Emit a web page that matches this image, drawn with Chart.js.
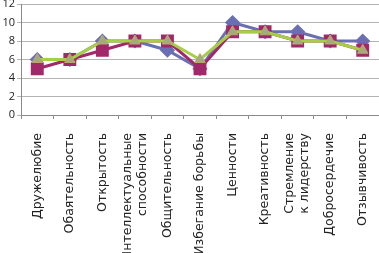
<!DOCTYPE html>
<html><head><meta charset="utf-8">
<script src="https://cdn.jsdelivr.net/npm/chart.js@4/dist/chart.umd.min.js"></script>
<style>html,body{margin:0;padding:0;background:#fff;overflow:hidden}canvas{display:block}</style>
</head><body>
<canvas id="c" width="379" height="253"></canvas>
<script>
const categories = ["Дружелюбие", "Обаятельность", "Открытость", ["Интеллектуальные", "способности"], "Общительность", "Избегание борьбы", "Ценности", "Креативность", ["Стремление", "к лидерству"], "Добросердечие", "Отзывчивость"];
const seriesBlue = [6, 6, 8, 8, 7, 5, 10, 9, 9, 8, 8];
const seriesRed = [5, 6, 7, 8, 8, 5, 9, 9, 8, 8, 7];
const seriesGreen = [6, 6, 8, 8, 8, 6, 9, 9, 8, 8, 7];
const yTicks = [0, 2, 4, 6, 8, 10, 12];

const centerMultiline = {
  id: 'centerMultiline',
  beforeDraw(chart) {
    const s = chart.scales.x;
    const items = s.getLabelItems(chart.chartArea);
    items.forEach(it => {
      const n = Array.isArray(it.label) ? it.label.length : 1;
      if (n > 1 && !it._shifted) {
        it.options.translation[0] -= (n - 1) * it.font.lineHeight / 2;
        it._shifted = true;
      }
    });
  }
};

new Chart(document.getElementById('c'), {
  type: 'line',
  data: {
    labels: categories,
    datasets: [
      {data: seriesGreen, borderColor: '#a6cf45', backgroundColor: '#a3ab7c', pointStyle: 'triangle', pointRadius: 6, pointBorderColor: '#b8a870', pointBorderWidth: 1, borderWidth: 3, order: 0},
      {data: seriesRed, borderColor: '#a1296a', backgroundColor: '#a1296a', pointStyle: 'rect', pointRadius: 7, pointBorderColor: '#a1296a', borderWidth: 3, order: 1},
      {data: seriesBlue, borderColor: '#6a6fb3', backgroundColor: '#6a6fb3', pointStyle: 'rectRot', pointRadius: 5.5, pointBorderColor: '#6a6fb3', borderWidth: 3, order: 2}
    ]
  },
  plugins: [centerMultiline],
  options: {
    responsive: false, animation: false,
    layout: {autoPadding: false, padding: {top: 4, right: 0, left: 0, bottom: 0}},
    plugins: {legend: {display: false}, tooltip: {enabled: false}},
    elements: {line: {tension: 0}},
    scales: {
      x: {
        offset: true,
        grid: {offset: true, drawOnChartArea: false, drawTicks: true, tickLength: 4, color: '#8a8a8a'},
        border: {color: '#8a8a8a'},
        ticks: {minRotation: 90, maxRotation: 90, autoSkip: false, padding: 14, color: '#222', font: {family: 'DejaVu Sans', size: 12.5, lineHeight: 1.2}},
        afterFit: s => { s.height = 138; s.paddingLeft = 0; s.paddingRight = 0; }
      },
      y: {
        min: 0, max: 12,
        afterBuildTicks: s => { s.ticks = yTicks.map(v => ({value: v})); },
        grid: {color: '#b4b4b4', tickLength: 4},
        border: {color: '#8a8a8a'},
        ticks: {padding: 2, color: '#222', font: {family: 'Open Sans', size: 11}},
        afterFit: s => { s.width = 21; s.paddingTop = 0; s.paddingBottom = 0; }
      }
    }
  }
});
</script>
</body></html>
